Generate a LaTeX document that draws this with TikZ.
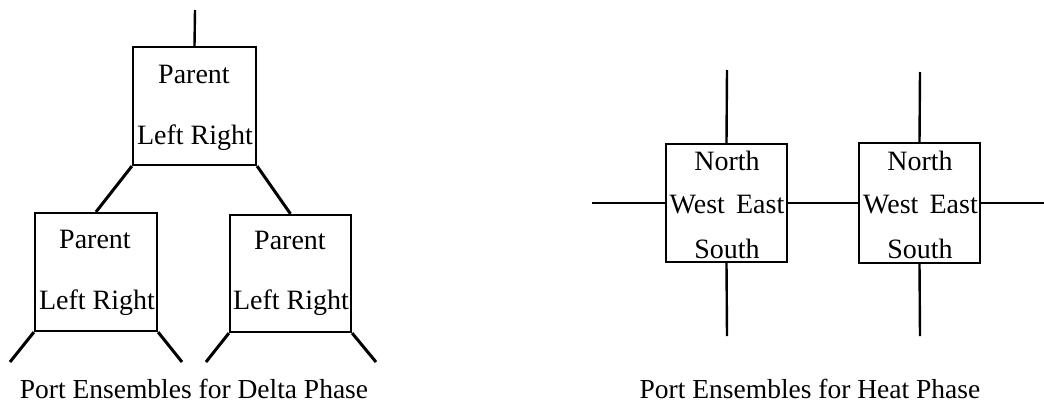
\documentclass[tikz,border=0pt]{standalone}
\usepackage{fontspec}
\setmainfont{Liberation Serif}
\begin{document}
\begin{tikzpicture}[x=1pt,y=-1pt,
  box/.style={draw,line width=2.2pt,minimum width=#1,inner sep=0pt},
  wire/.style={line width=2.4pt},
  leg/.style={line width=3pt},
  lbl/.style={inner sep=0pt,font=\fontsize{28}{30}\selectfont},
  captxt/.style={inner sep=0pt,font=\fontsize{27.5}{30}\selectfont}]
\useasboundingbox (0,0) rectangle (1044,407);
% Delta phase
\node[box=123pt,minimum height=118pt] (top) at (194.5,106) {};
\node[box=122pt,minimum height=118pt] (lc) at (96,272) {};
\node[box=121pt,minimum height=117pt] (rc) at (290.5,273.5) {};
\node[lbl] (tp) at (194,74) {Parent};
\node[lbl] (tlr) at (195,138) {Left Right};
\node[lbl] (lp) at (95,239) {Parent};
\node[lbl] (llr) at (97,303) {Left Right};
\node[lbl] (rp) at (290,240) {Parent};
\node[lbl] (rlr) at (291,303) {Left Right};
\coordinate (tin) at (195,10);
\draw[wire] (tin) -- (top.north);
\draw[leg] (top.south west) -- (lc.north);
\draw[leg] (top.south east) -- (rc.north);
\coordinate (l1) at (10,362);
\coordinate (l2) at (182,362);
\coordinate (r1) at (206,362);
\coordinate (r2) at (376,362);
\draw[leg] (lc.south west) -- (l1);
\draw[leg] (lc.south east) -- (l2);
\draw[leg] (rc.south west) -- (r1);
\draw[leg] (rc.south east) -- (r2);
\node[captxt] (capd) at (194,389) {Port Ensembles for Delta Phase};
% Heat phase
\node[box=121pt,minimum height=118pt] (h1) at (726.5,203) {};
\node[box=121pt,minimum height=120pt] (h2) at (919.5,203) {};
\node[lbl] (h1n) at (727,161) {North};
\node[lbl] (h1we) at (727,205) {West\hspace{0.4em}East};
\node[lbl] (h1s) at (727,249) {South};
\node[lbl] (h2n) at (920,161) {North};
\node[lbl] (h2we) at (920.5,205) {West\hspace{0.4em}East};
\node[lbl] (h2s) at (920,249) {South};
\coordinate (h1t) at (727,70);
\coordinate (h1b) at (727,336);
\coordinate (h2t) at (920,72);
\coordinate (h2b) at (920,336);
\coordinate (hl) at (592,203);
\coordinate (hr) at (1044,203);
\draw[wire] (h1t) -- (h1.north);
\draw[wire] (h1.south) -- (h1b);
\draw[wire] (h2t) -- (h2.north);
\draw[wire] (h2.south) -- (h2b);
\draw[wire] (hl) -- (h1.west);
\draw[wire] (h1.east) -- (h2.west);
\draw[wire] (h2.east) -- (hr);
\node[captxt] (caph) at (810,389) {Port Ensembles for Heat Phase};
\end{tikzpicture}
\end{document}
